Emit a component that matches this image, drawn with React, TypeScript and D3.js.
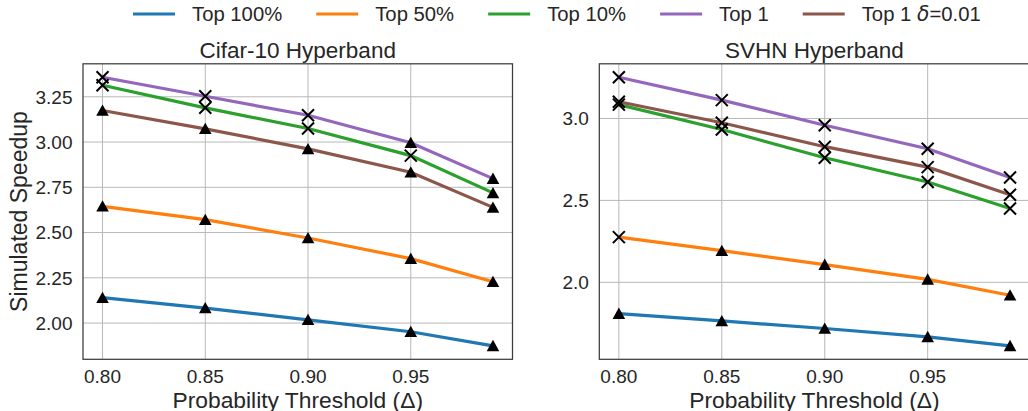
import React, { useEffect, useRef } from "react";
import * as d3 from "d3";

// Probability thresholds (Δ) on the x axis
const thresholds = [0.8, 0.85, 0.9, 0.95, 0.99];
const xTicks = [0.8, 0.85, 0.9, 0.95];

const seriesNames = ["Top 100%", "Top 50%", "Top 10%", "Top 1", "Top 1 δ=0.01"];
const seriesColors = ["#1f77b4", "#ff7f0e", "#2ca02c", "#9467bd", "#8c564b"];

// Cifar-10 Hyperband simulated speedups
const cifarTop100 = [2.14, 2.083, 2.018, 1.952, 1.874];
const cifarTop50 = [2.645, 2.571, 2.47, 2.356, 2.228];
const cifarTop10 = [3.314, 3.189, 3.075, 2.925, 2.719];
const cifarTop1 = [3.358, 3.253, 3.148, 2.996, 2.798];
const cifarTop1Delta = [3.174, 3.073, 2.962, 2.833, 2.639];
// marker per point: "^" triangle, "x" cross
const cifarMarkers = ["^^^^^", "^^^^^", "xxxx^", "xxx^^", "^^^^^"];
const cifarYTicks = [2.0, 2.25, 2.5, 2.75, 3.0, 3.25];

// SVHN Hyperband simulated speedups
const svhnTop100 = [1.809, 1.764, 1.718, 1.667, 1.612];
const svhnTop50 = [2.276, 2.193, 2.108, 2.018, 1.921];
const svhnTop10 = [3.085, 2.933, 2.76, 2.612, 2.451];
const svhnTop1 = [3.252, 3.112, 2.959, 2.815, 2.64];
const svhnTop1Delta = [3.102, 2.974, 2.828, 2.703, 2.535];
const svhnMarkers = ["^^^^^", "x^^^^", "xxxxx", "xxxxx", "xxxxx"];
const svhnYTicks = [2.0, 2.5, 3.0];

const W = 1028;
const H = 411;
const FONT = "'Liberation Sans', Arial, sans-serif";
const TEXT = "#262626";

type Panel = {
  title: string;
  series: number[][];
  markers: string[];
  yTicks: number[];
  fmt: string;
  x0: number;
  x1: number;
};

const panels: Panel[] = [
  {
    title: "Cifar-10 Hyperband",
    series: [cifarTop100, cifarTop50, cifarTop10, cifarTop1, cifarTop1Delta],
    markers: cifarMarkers,
    yTicks: cifarYTicks,
    fmt: ".2f",
    x0: 83,
    x1: 512.5,
  },
  {
    title: "SVHN Hyperband",
    series: [svhnTop100, svhnTop50, svhnTop10, svhnTop1, svhnTop1Delta],
    markers: svhnMarkers,
    yTicks: svhnYTicks,
    fmt: ".1f",
    x0: 599.3,
    x1: 1029.6,
  },
];

const TOP = 63.8;
const BOTTOM = 359.3;

function padded(lo: number, hi: number): [number, number] {
  const m = (hi - lo) * 0.05;
  return [lo - m, hi + m];
}

export default function App() {
  const ref = useRef<SVGSVGElement>(null);

  useEffect(() => {
    document.body.style.margin = "0";
    const svg = d3.select(ref.current!);
    svg.selectAll("*").remove();
    svg.append("rect").attr("width", W).attr("height", H).attr("fill", "#fff");

    const triangle = "M0,-6 L6.3,5.3 L-6.3,5.3 Z";
    const cross = "M-6,-6 L6,6 M-6,6 L6,-6";

    panels.forEach((p, pi) => {
      const g = svg.append("g");
      const [xa, xb] = padded(d3.min(thresholds)!, d3.max(thresholds)!);
      const x = d3.scaleLinear().domain([xa, xb]).range([p.x0, p.x1]);
      const all = p.series.flat();
      const [ya, yb] = padded(d3.min(all)!, d3.max(all)!);
      const y = d3.scaleLinear().domain([ya, yb]).range([BOTTOM, TOP]);
      const fmt = d3.format(p.fmt);

      // grid
      g.selectAll(".gx")
        .data(xTicks)
        .join("line")
        .attr("x1", (d) => x(d))
        .attr("x2", (d) => x(d))
        .attr("y1", TOP)
        .attr("y2", BOTTOM)
        .attr("stroke", "#b8b8b8")
        .attr("stroke-width", 1);
      g.selectAll(".gy")
        .data(p.yTicks)
        .join("line")
        .attr("x1", p.x0)
        .attr("x2", p.x1)
        .attr("y1", (d) => y(d))
        .attr("y2", (d) => y(d))
        .attr("stroke", "#b8b8b8")
        .attr("stroke-width", 1);

      // tick labels
      g.selectAll(".tx")
        .data(xTicks)
        .join("text")
        .attr("x", (d) => x(d))
        .attr("y", BOTTOM + 23.4)
        .attr("text-anchor", "middle")
        .attr("font-family", FONT)
        .attr("font-size", 19)
        .attr("fill", TEXT)
        .text((d) => d3.format(".2f")(d));
      g.selectAll(".ty")
        .data(p.yTicks)
        .join("text")
        .attr("x", p.x0 - 10.5)
        .attr("y", (d) => y(d))
        .attr("dy", "0.36em")
        .attr("text-anchor", "end")
        .attr("font-family", FONT)
        .attr("font-size", 19)
        .attr("fill", TEXT)
        .text((d) => fmt(d));

      // lines
      const line = d3
        .line<number>()
        .x((_, i) => x(thresholds[i]))
        .y((d) => y(d));
      p.series.forEach((vals, si) => {
        g.append("path")
          .attr("d", line(vals)!)
          .attr("fill", "none")
          .attr("stroke", seriesColors[si])
          .attr("stroke-width", 3.2);
      });

      // markers
      p.series.forEach((vals, si) => {
        vals.forEach((v, i) => {
          const kind = p.markers[si][i];
          const tr = `translate(${x(thresholds[i])},${y(v)})`;
          if (kind === "^") {
            g.append("path").attr("d", triangle).attr("transform", tr).attr("fill", "#000");
          } else {
            g.append("path")
              .attr("d", cross)
              .attr("transform", tr)
              .attr("fill", "none")
              .attr("stroke", "#000")
              .attr("stroke-width", 2);
          }
        });
      });

      // spines
      g.append("rect")
        .attr("x", p.x0)
        .attr("y", TOP)
        .attr("width", p.x1 - p.x0)
        .attr("height", BOTTOM - TOP)
        .attr("fill", "none")
        .attr("stroke", "#3c3c3c")
        .attr("stroke-width", 1.25);

      const cx = (p.x0 + p.x1) / 2;
      g.append("text")
        .attr("x", cx)
        .attr("y", 57.7)
        .attr("text-anchor", "middle")
        .attr("font-family", FONT)
        .attr("font-size", 22.5)
        .attr("fill", TEXT)
        .text(p.title);
      g.append("text")
        .attr("x", cx)
        .attr("y", 407.5)
        .attr("text-anchor", "middle")
        .attr("font-family", FONT)
        .attr("font-size", 22.8)
        .attr("fill", TEXT)
        .text("Probability Threshold (Δ)");

      if (pi === 0) {
        g.append("text")
          .attr("transform", `translate(27,${(TOP + BOTTOM) / 2}) rotate(-90)`)
          .attr("text-anchor", "middle")
          .attr("font-family", FONT)
          .attr("font-size", 23)
          .attr("fill", TEXT)
          .text("Simulated Speedup");
      }
    });

    // legend
    const lg = svg.append("g");
    let cursor = 133;
    const ly = 14;
    seriesNames.forEach((name, i) => {
      lg.append("line")
        .attr("x1", cursor)
        .attr("x2", cursor + 42)
        .attr("y1", ly)
        .attr("y2", ly)
        .attr("stroke", seriesColors[i])
        .attr("stroke-width", 3.2);
      const t = lg
        .append("text")
        .attr("x", cursor + 59)
        .attr("y", ly + 7)
        .attr("font-family", FONT)
        .attr("font-size", 20.3)
        .attr("fill", TEXT);
      const parts = name.split("δ");
      if (parts.length > 1) {
        t.append("tspan").text(parts[0]);
        t.append("tspan")
          .attr("font-family", "'DejaVu Sans', sans-serif")
          .attr("font-style", "italic")
          .text("δ");
        t.append("tspan").text(parts[1]);
      } else {
        t.text(name);
      }
      const w = (t.node() as SVGTextElement).getComputedTextLength();
      cursor = cursor + 59 + w + 34;
    });
  }, []);

  return <svg ref={ref} width={W} height={H} style={{ display: "block" }} />;
}
